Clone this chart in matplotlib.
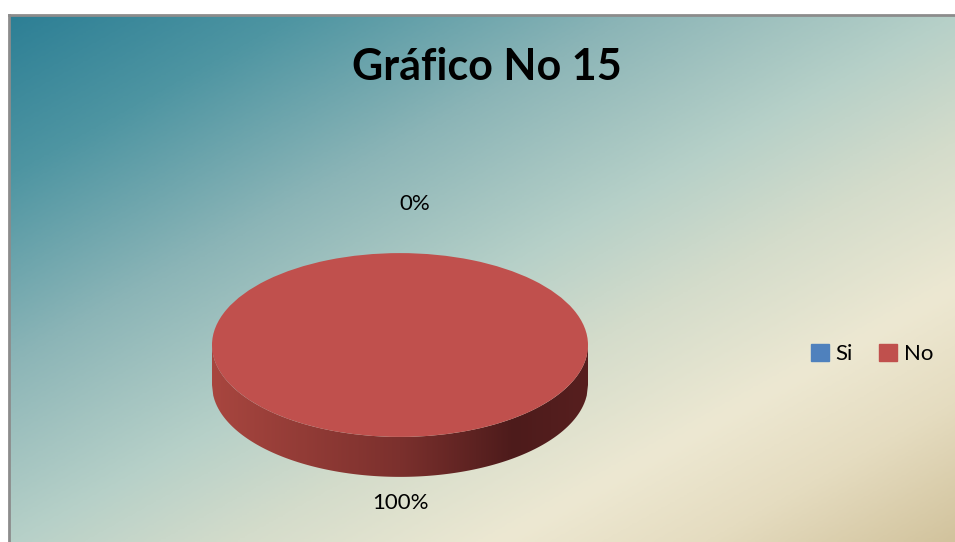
import numpy as np
import matplotlib
matplotlib.use("Agg")
import matplotlib.pyplot as plt
from matplotlib.colors import LinearSegmentedColormap

# datos del gráfico
categorias = ["Si", "No"]
valores = [0, 100]
colores = ["#4F81BD", "#C0504D"]
titulo = "Gráfico No 15"

plt.rcParams['font.family'] = ['Lato', 'DejaVu Sans']

W, H = 955, 542
fig = plt.figure(figsize=(W / 100, H / 100), dpi=100)
fig.patch.set_facecolor("white")

# --- fondo degradado del área del gráfico ---
fondo = fig.add_axes([9 / W, 0, (W - 9) / W, (H - 15) / H])
cmap_fondo = LinearSegmentedColormap.from_list("fondo", [
    (0.0, "#2D7F95"), (0.15, "#4E95A2"), (0.33, "#8CB5B7"), (0.5, "#B6D0C8"),
    (0.62, "#D4DCCB"), (0.76, "#EDE8D2"), (0.87, "#E5DCC0"), (1.0, "#D2C39D")])
u = np.linspace(0, 1, 400)
v = np.linspace(0, 1, 300)
uu, vv = np.meshgrid(u, v)
fondo.imshow((uu + vv) / 2, cmap=cmap_fondo, aspect="auto", extent=[0, 1, 1, 0],
             vmin=0, vmax=1, interpolation="bilinear")
fondo.set_xlim(0, 1)
fondo.set_ylim(1, 0)
fondo.set_xticks([])
fondo.set_yticks([])
for lado in ["right", "bottom"]:
    fondo.spines[lado].set_visible(False)
for lado in ["top", "left"]:
    fondo.spines[lado].set_color("#8C8C8C")
    fondo.spines[lado].set_linewidth(2)

# --- tarta 3D ---
ax = fig.add_axes([24 / W, 4 / H, 752 / W, 386 / H])
ax.set_zorder(2)
ax.patch.set_alpha(0)
prof = 0.435

# lateral del cilindro con degradado
xs = np.linspace(-1, 1, 300)
arriba = -np.sqrt(1 - xs ** 2)
abajo = arriba - prof
lateral = ax.fill_between(xs, abajo, arriba, color="none", linewidth=0)
cmap_lado = LinearSegmentedColormap.from_list("lado", [
    (0.0, "#A8463F"), (0.5, "#7B302D"), (0.8, "#4D1B1B"), (1.0, "#571F1F")])
img = ax.imshow(np.linspace(0, 1, 256)[None, :], cmap=cmap_lado, aspect="auto",
                extent=[-1, 1, -1 - prof, 0], interpolation="bilinear")
img.set_clip_path(lateral.get_paths()[0], transform=ax.transData)

wedges, _ = ax.pie(valores, colors=colores, startangle=90, counterclock=False,
                   radius=1, wedgeprops=dict(linewidth=0))
ax.set_aspect("auto")
ax.set_xlim(-2, 2)
ax.set_ylim(-2.1, 2.1)
ax.axis("off")

# etiquetas de porcentaje
total = sum(valores)
acum = 0
for val in valores:
    ang = np.deg2rad(90 - 360 * (acum + val / 2) / total)
    acum += val
    x = 1.53 * np.cos(ang)
    y = 1.53 * np.sin(ang)
    if y < 0:
        y -= 0.44 * prof
    else:
        x += 0.08  # Excel la desplaza un poco a la derecha
    ax.text(x, y, f"{val / total:.0%}", ha="center", va="center", fontsize=16,
            color="black")

# título
fig.text(487 / W, 1 - 67 / H, titulo, ha="center", va="center", fontsize=31,
         fontweight="bold", color="black")

# leyenda
handles = [plt.Rectangle((0, 0), 1, 1, color=c) for c in colores]
fig.legend(handles, categorias, loc="center left", bbox_to_anchor=(811 / W, 1 - 354 / H),
           ncol=2, frameon=False, fontsize=16, handlelength=0.8, handleheight=0.8,
           handletextpad=0.3, columnspacing=1.2, borderpad=0, borderaxespad=0)

fig.savefig("out.png", dpi=100)
